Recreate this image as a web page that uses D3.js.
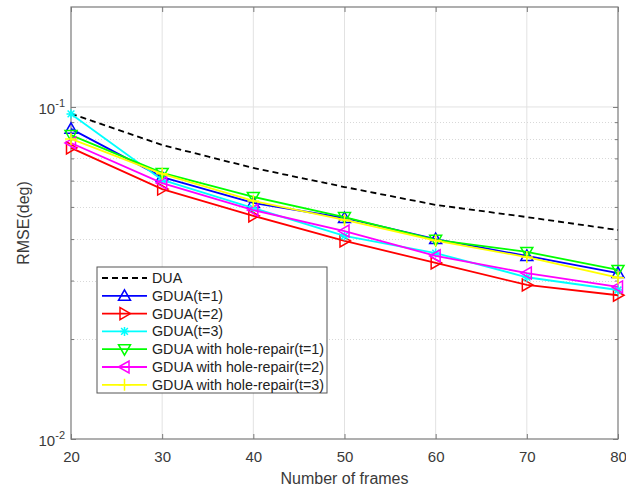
<!DOCTYPE html>
<html>
<head>
<meta charset="utf-8">
<script src="https://cdn.jsdelivr.net/npm/d3@7/dist/d3.min.js"></script>
<style>
  body { margin: 0; background: #fff; }
  svg { display: block; font-family: "Liberation Sans", Arial, sans-serif; }
</style>
</head>
<body>
<svg id="chart" width="626" height="489"></svg>
<script>
// frames on the x axis
const frames = [20, 30, 40, 50, 60, 70, 80];

// RMSE (deg) per method
const dua       = [0.0955, 0.0768, 0.0655, 0.0574, 0.0507, 0.0466, 0.0426];
const gduaT1    = [0.0859, 0.0615, 0.0514, 0.0463, 0.0400, 0.0356, 0.0316];
const gduaT2    = [0.0753, 0.0566, 0.0470, 0.0395, 0.0339, 0.0291, 0.0271];
const gduaT3    = [0.0953, 0.0603, 0.0496, 0.0409, 0.0363, 0.0307, 0.0281];
const holeT1    = [0.0823, 0.0633, 0.0536, 0.0466, 0.0398, 0.0366, 0.0323];
const holeT2    = [0.0779, 0.0590, 0.0489, 0.0423, 0.0356, 0.0316, 0.0287];
const holeT3    = [0.0801, 0.0629, 0.0521, 0.0457, 0.0396, 0.0353, 0.0306];

const xTicks = [20, 30, 40, 50, 60, 70, 80];
const yMajor = [0.01, 0.1];
const yMinor = [0.02, 0.03, 0.04, 0.05, 0.06, 0.07, 0.08, 0.09];

const series = [
  { name: "DUA", values: dua, color: "#000000", dash: "6,4", marker: null },
  { name: "GDUA(t=1)", values: gduaT1, color: "#0000ff", marker: "up" },
  { name: "GDUA(t=2)", values: gduaT2, color: "#ff0000", marker: "right" },
  { name: "GDUA(t=3)", values: gduaT3, color: "#00ffff", marker: "star" },
  { name: "GDUA with hole-repair(t=1)", values: holeT1, color: "#00ff00", marker: "down" },
  { name: "GDUA with hole-repair(t=2)", values: holeT2, color: "#ff00ff", marker: "left" },
  { name: "GDUA with hole-repair(t=3)", values: holeT3, color: "#ffff00", marker: "plus" }
];

const margin = { left: 71, right: 8, top: 7, bottom: 50 };
const W = 626, H = 489;
const svg = d3.select("#chart");

const x = d3.scaleLinear().domain([20, 80]).range([margin.left, W - margin.right]);
const y = d3.scaleLog().domain([0.01, 0.2]).range([H - margin.bottom, margin.top]);

const boxColor = "#7a7a7a";
const textColor = "#3a3a3a";

// grid
const grid = svg.append("g");
grid.selectAll(".gx").data(xTicks.slice(1, -1)).enter().append("line")
  .attr("x1", d => x(d)).attr("x2", d => x(d))
  .attr("y1", y.range()[0]).attr("y2", y.range()[1])
  .attr("stroke", "#e2e2e2").attr("stroke-width", 1);
grid.selectAll(".gy").data([0.1]).enter().append("line")
  .attr("x1", x.range()[0]).attr("x2", x.range()[1])
  .attr("y1", d => y(d)).attr("y2", d => y(d))
  .attr("stroke", "#e2e2e2").attr("stroke-width", 1);
grid.selectAll(".gm").data(yMinor).enter().append("line")
  .attr("x1", x.range()[0]).attr("x2", x.range()[1])
  .attr("y1", d => Math.round(y(d)) + 0.5).attr("y2", d => Math.round(y(d)) + 0.5)
  .attr("stroke", "#d8d8d8").attr("stroke-width", 1).attr("stroke-dasharray", "1,2");

// axes (ticks inside, mirrored)
const axBottom = svg.append("g").attr("transform", `translate(0,${y.range()[0]})`)
  .call(d3.axisBottom(x).tickValues(xTicks).tickSize(-5).tickPadding(12).tickFormat(d3.format("d")));
svg.append("g").attr("transform", `translate(0,${y.range()[1]})`)
  .call(d3.axisTop(x).tickValues(xTicks).tickSize(-5).tickFormat(""));
svg.append("g").attr("transform", `translate(${x.range()[0]},0)`)
  .call(d3.axisLeft(y).tickValues(yMajor).tickSize(-5).tickFormat(""));
svg.append("g").attr("transform", `translate(${x.range()[1]},0)`)
  .call(d3.axisRight(y).tickValues(yMajor).tickSize(-5).tickFormat(""));
svg.append("g").attr("transform", `translate(${x.range()[0]},0)`)
  .call(d3.axisLeft(y).tickValues(yMinor).tickSize(-3).tickFormat(""));
svg.append("g").attr("transform", `translate(${x.range()[1]},0)`)
  .call(d3.axisRight(y).tickValues(yMinor).tickSize(-3).tickFormat(""));
svg.selectAll(".domain").remove();
svg.selectAll(".tick line").attr("stroke", boxColor);
axBottom.selectAll("text").attr("font-size", 15).attr("fill", textColor)
  .attr("font-family", "'Liberation Sans', Arial, sans-serif");

svg.append("rect")
  .attr("x", x.range()[0]).attr("y", y.range()[1])
  .attr("width", x.range()[1] - x.range()[0]).attr("height", y.range()[0] - y.range()[1])
  .attr("fill", "none").attr("stroke", boxColor).attr("stroke-width", 1.2);

// y tick labels with exponent
yMajor.forEach(v => {
  const t = svg.append("text")
    .attr("x", x.range()[0] - 6).attr("y", y(v) + 7)
    .attr("text-anchor", "end").attr("font-size", 15).attr("fill", textColor);
  t.append("tspan").text("10");
  t.append("tspan").attr("dy", -7).attr("font-size", 11).text(String(Math.round(Math.log10(v))));
});

// axis labels
svg.append("text")
  .attr("x", (x.range()[0] + x.range()[1]) / 2).attr("y", 484)
  .attr("text-anchor", "middle").attr("font-size", 16).attr("fill", textColor)
  .text("Number of frames");
svg.append("text")
  .attr("transform", `translate(29,${(y.range()[0] + y.range()[1]) / 2}) rotate(-90)`)
  .attr("text-anchor", "middle").attr("font-size", 16).attr("fill", textColor)
  .text("RMSE(deg)");

// marker drawing
function drawMarker(g, type, color, cx, cy, s) {
  const r = s;
  let path = null;
  if (type === "up") path = `M${cx},${cy - r}L${cx + r},${cy + r * 0.75}L${cx - r},${cy + r * 0.75}Z`;
  if (type === "down") path = `M${cx},${cy + r}L${cx + r},${cy - r * 0.75}L${cx - r},${cy - r * 0.75}Z`;
  if (type === "right") path = `M${cx + r},${cy}L${cx - r * 0.75},${cy - r}L${cx - r * 0.75},${cy + r}Z`;
  if (type === "left") path = `M${cx - r},${cy}L${cx + r * 0.75},${cy - r}L${cx + r * 0.75},${cy + r}Z`;
  if (type === "plus") path = `M${cx - r},${cy}L${cx + r},${cy}M${cx},${cy - r}L${cx},${cy + r}`;
  if (type === "star") {
    const a = r * 0.75;
    path = `M${cx - r},${cy}L${cx + r},${cy}M${cx},${cy - r}L${cx},${cy + r}` +
           `M${cx - a},${cy - a}L${cx + a},${cy + a}M${cx - a},${cy + a}L${cx + a},${cy - a}`;
  }
  if (path) g.append("path").attr("d", path).attr("fill", "none")
    .attr("stroke", color).attr("stroke-width", 1.5);
}

const line = d3.line().x(d => x(d[0])).y(d => y(d[1]));
const plot = svg.append("g");
series.forEach(s => {
  const pts = frames.map((f, i) => [f, s.values[i]]);
  plot.append("path").datum(pts).attr("d", line)
    .attr("fill", "none").attr("stroke", s.color).attr("stroke-width", 1.8)
    .attr("stroke-dasharray", s.dash || null);
  if (s.marker) {
    const size = s.marker === "star" ? 4.5 : 6;
    pts.forEach(p => drawMarker(plot, s.marker, s.color, x(p[0]), y(p[1]), size));
  }
});

// legend
const lg = svg.append("g");
const lgX = 97, lgY = 267, lgW = 230, lgH = 126, rowH = 17.8;
lg.append("rect").attr("x", lgX).attr("y", lgY).attr("width", lgW).attr("height", lgH)
  .attr("fill", "#fff").attr("stroke", "#555").attr("stroke-width", 1);
series.forEach((s, i) => {
  const cy = lgY + 11 + i * rowH;
  lg.append("line").attr("x1", lgX + 5).attr("x2", lgX + 50).attr("y1", cy).attr("y2", cy)
    .attr("stroke", s.color).attr("stroke-width", 1.8).attr("stroke-dasharray", s.dash || null);
  if (s.marker) drawMarker(lg, s.marker, s.color, lgX + 27.5, cy, s.marker === "star" ? 4.5 : 6);
  lg.append("text").attr("x", lgX + 55).attr("y", cy + 5)
    .attr("font-size", 14.3).attr("fill", "#222").text(s.name);
});
</script>
</body>
</html>
